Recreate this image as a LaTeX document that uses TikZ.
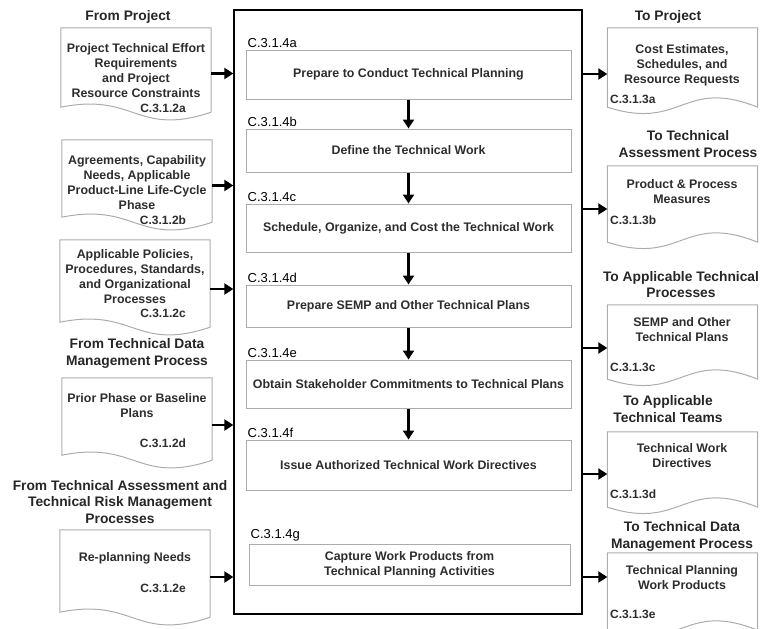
\documentclass[tikz,border=0pt]{standalone}
\usepackage{fontspec}
\setmainfont{Liberation Sans}
\usepackage{xcolor}
\usepackage{tikz}
\usetikzlibrary{arrows.meta,positioning}
\definecolor{edgegray}{RGB}{172,172,172}
\definecolor{inkgray}{RGB}{45,45,45}

\begin{document}
\begin{tikzpicture}[
    x=1pt, y=-1pt,
    frame/.style={rectangle, draw=black, line width=1.3pt, minimum width=348pt, minimum height=604pt},
    stage/.style={rectangle, draw=edgegray, line width=1pt, minimum width=325pt, align=center, text=inkgray, font=\fontsize{12.4}{15}\selectfont\bfseries},
    stageid/.style={inner sep=1pt, text=black, font=\fontsize{13}{15}\selectfont},
    docbox/.style={rectangle, minimum width=150pt, inner sep=0pt},
    doctext/.style={align=center, text=inkgray, font=\fontsize{12.4}{15}\selectfont\bfseries},
    docid/.style={inner sep=1pt, text=inkgray, font=\fontsize{12}{14}\selectfont\bfseries},
    heading/.style={align=center, text=black!85, font=\fontsize{13.8}{16.5}\selectfont\bfseries},
    docline/.style={draw=edgegray, line width=1pt},
    flow/.style={line width=2.2pt, -{Triangle[length=9pt,width=11pt]}}
]
    \useasboundingbox (0,0) rectangle (763,629);

    % process frame and its steps
    \node[frame] (frame) at (408,312) {};
    \node[stage, minimum height=49pt] (a) at (408.5,74.5) {Prepare to Conduct Technical Planning};
    \node[stage, minimum height=43pt] (b) at (408.5,150.5) {Define the Technical Work};
    \node[stage, minimum height=48pt] (c) at (408.5,228) {Schedule, Organize, and Cost the Technical Work};
    \node[stage, minimum height=42pt] (d) at (408.5,306) {Prepare SEMP and Other Technical Plans};
    \node[stage, minimum height=48pt] (e) at (408.5,384) {Obtain Stakeholder Commitments to Technical Plans};
    \node[stage, minimum height=50pt] (f) at (408.5,465) {Issue Authorized Technical Work Directives};
    \node[stage, minimum height=41pt, minimum width=321pt] (g) at (409.5,564.5) {Capture Work Products from\\Technical Planning Activities};
    \foreach \s in {a,...,g}
        \node[stageid, above right=1pt and 1pt of \s.north west] (id\s) {C.3.1.4\s};
    \foreach \u/\v in {a/b,b/c,c/d,d/e,e/f}
        \draw[flow] (\u.south) -- (\v.north);

    % inputs
    \node[heading] (hin1) at (128,17) {From Project};
    \node[docbox, minimum height=79pt] (in1) at (136,67.5) {};
    \node[doctext] (in1text) at (136,70.5) {Project Technical Effort\\Requirements\\and Project\\Resource Constraints};
    \node[docid] (in1id) at (163,108) {C.3.1.2a};

    \node[docbox, minimum height=77pt] (in2) at (137,178.5) {};
    \node[doctext] (in2text) at (137,182.5) {Agreements, Capability\\Needs, Applicable\\Product-Line Life-Cycle\\Phase};
    \node[docid] (in2id) at (163,220) {C.3.1.2b};

    \node[docbox, minimum height=82pt] (in3) at (135,281) {};
    \node[doctext] (in3text) at (135,276.5) {Applicable Policies,\\Procedures, Standards,\\and Organizational\\Processes};
    \node[docid] (in3id) at (163,313) {C.3.1.2c};

    \node[heading] (hin4) at (137,353.5) {From Technical Data\\Management Process};
    \node[docbox, minimum height=77pt] (in4) at (137,416.5) {};
    \node[doctext] (in4text) at (137,405.5) {Prior Phase or Baseline\\Plans};
    \node[docid] (in4id) at (163,443) {C.3.1.2d};

    \node[heading] (hin5) at (120,502) {From Technical Assessment and\\Technical Risk Management\\Processes};
    \node[docbox, minimum height=82pt] (in5) at (135,571) {};
    \node[doctext] (in5text) at (135,558) {Re-planning Needs};
    \node[docid] (in5id) at (163,588) {C.3.1.2e};

    \foreach \n in {in1,in2,in3,in4,in5}
        \draw[docline] ([yshift=-5pt]\n.south east) -- (\n.north east) -- (\n.north west) -- (\n.south west)
            .. controls +(75,-15) and +(-75,25) .. ([yshift=-5pt]\n.south east);
    \foreach \n/\dy in {in1/6,in2/7,in3/8,in4/8.5,in5/6}
        \draw[flow] ([yshift=-\dy pt]\n.east) -- ([yshift=-\dy pt]\n.east -| frame.west);

    % outputs
    \node[heading] (hout1) at (668,17) {To Project};
    \node[docbox, minimum height=79pt] (out1) at (682.5,67.5) {};
    \node[doctext] (out1text) at (682,65) {Cost Estimates,\\Schedules, and\\Resource Requests};
    \node[docid, anchor=west] (out1id) at (609,99) {C.3.1.3a};

    \node[heading] (hout2) at (688,144) {To Technical\\Assessment Process};
    \node[docbox, minimum height=76pt] (out2) at (682.5,204) {};
    \node[doctext] (out2text) at (682,191.5) {Product \& Process\\Measures};
    \node[docid, anchor=west] (out2id) at (609,220) {C.3.1.3b};

    \node[heading] (hout3) at (681,284.5) {To Applicable Technical\\Processes};
    \node[docbox, minimum height=74pt] (out3) at (682.5,342) {};
    \node[doctext] (out3text) at (682,330) {SEMP and Other\\Technical Plans};
    \node[docid, anchor=west] (out3id) at (609,367) {C.3.1.3c};

    \node[heading] (hout4) at (668,409) {To Applicable\\Technical Teams};
    \node[docbox, minimum height=75pt] (out4) at (682.5,469.5) {};
    \node[doctext] (out4text) at (682,455.5) {Technical Work\\Directives};
    \node[docid, anchor=west] (out4id) at (609,494) {C.3.1.3d};

    \node[heading] (hout5) at (682,536.5) {To Technical Data\\Management Process};
    \node[docbox, minimum height=77pt] (out5) at (682.5,591.5) {};
    \node[doctext] (out5text) at (682,577.5) {Technical Planning\\Work Products};
    \node[docid, anchor=west] (out5id) at (609,614) {C.3.1.3e};

    \foreach \n in {out1,out2,out3,out4,out5}
        \draw[docline] (\n.south west) -- (\n.north west) -- (\n.north east) -- (\n.south east)
            .. controls +(-75,-30) and +(75,24) .. (\n.south west);
    \foreach \n/\dy in {out1/6.5,out2/5,out3/6,out4/4.5,out5/-14.5}
        \draw[flow] ([yshift=-\dy pt]\n.west -| frame.east) -- ([yshift=-\dy pt]\n.west);
\end{tikzpicture}
\end{document}
